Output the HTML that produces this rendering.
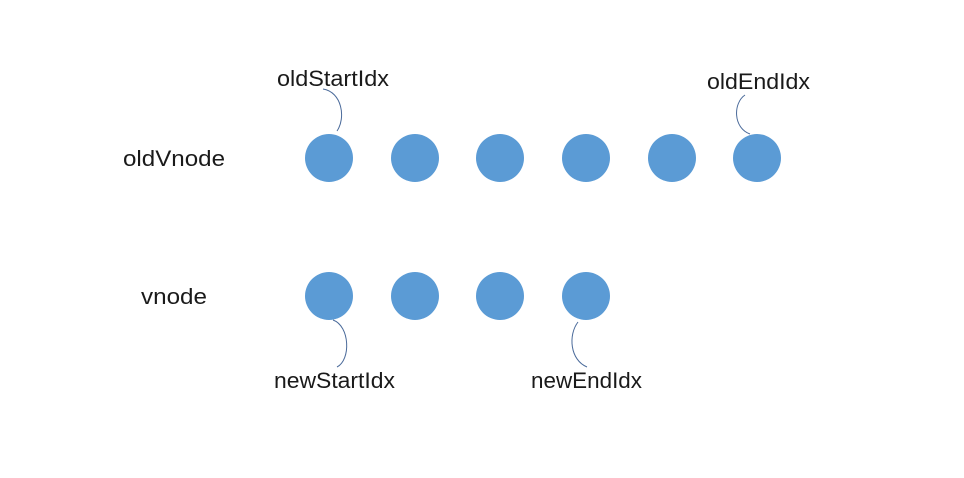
<!DOCTYPE html>
<html><head><meta charset="utf-8"><style>
html,body{margin:0;padding:0;background:#fff;}
svg{display:block;}
text{font-family:"Liberation Sans","Noto Sans CJK SC",sans-serif;font-size:22px;fill:#1a1a1a;}
</style></head><body>
<svg width="964" height="478" viewBox="0 0 964 478">
<text x="123" y="166" textLength="102" lengthAdjust="spacingAndGlyphs">oldVnode</text>
<text x="141" y="304" textLength="66" lengthAdjust="spacingAndGlyphs">vnode</text>
<g fill="#5b9bd5">
<circle cx="329" cy="158" r="24"/>
<circle cx="415" cy="158" r="24"/>
<circle cx="500" cy="158" r="24"/>
<circle cx="586" cy="158" r="24"/>
<circle cx="672" cy="158" r="24"/>
<circle cx="757" cy="158" r="24"/>
<circle cx="329" cy="296" r="24"/>
<circle cx="415" cy="296" r="24"/>
<circle cx="500" cy="296" r="24"/>
<circle cx="586" cy="296" r="24"/>
</g>
<g fill="none" stroke="#4a6a9a" stroke-width="1">
<path d="M323 89 C342 92 346 118 337 131"/>
<path d="M745 95 C733 103 733 128 750 134"/>
<path d="M333 320 C350 326 351 360 337 367"/>
<path d="M578 322 C568 335 570 360 587 367"/>
</g>
<text x="277" y="86" textLength="112" lengthAdjust="spacingAndGlyphs">oldStartIdx</text>
<text x="707" y="89" textLength="103" lengthAdjust="spacingAndGlyphs">oldEndIdx</text>
<text x="274" y="388" textLength="121" lengthAdjust="spacingAndGlyphs">newStartIdx</text>
<text x="531" y="388" textLength="111" lengthAdjust="spacingAndGlyphs">newEndIdx</text>
</svg>
</body></html>
